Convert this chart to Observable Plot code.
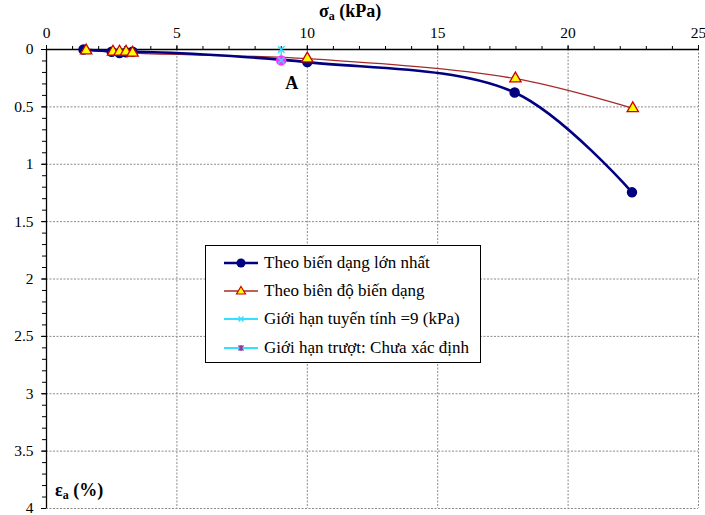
<!DOCTYPE html>
<html>
<head>
<meta charset="utf-8">
<script src="https://cdn.jsdelivr.net/npm/d3@7"></script>
<script src="https://cdn.jsdelivr.net/npm/@observablehq/plot@0.6"></script>
<style>
  html, body { margin: 0; padding: 0; background: #fff; }
  #wrap { position: relative; width: 705px; height: 515px; overflow: hidden; font-family: 'Liberation Serif', 'Tinos', 'Nimbus Roman', 'DejaVu Serif', serif; }
  #wrap svg text { font-family: 'Liberation Serif', 'Tinos', 'Nimbus Roman', 'DejaVu Serif', serif; }
  #title { position: absolute; left: 319px; top: 1px; font-weight: bold; font-size: 18px; }
  #ylab { position: absolute; left: 55px; top: 480px; font-weight: bold; font-size: 18px; }
  sub { font-size: 12px; vertical-align: -3px; }
  #legend { position: absolute; left: 205px; top: 245px; width: 274px; height: 116px; border: 1px solid #000; background: #fff; font-size: 17px; }
  .row { position: absolute; left: 16px; height: 20px; display: flex; align-items: center; white-space: nowrap; }
  .row svg { margin-right: 4px; }
</style>
</head>
<body>
<div id="wrap">
  <div id="chart"></div>
  <div id="title">σ<sub>a</sub> (kPa)</div>
  <div id="ylab">ε<sub>a</sub> (%)</div>
  <div id="legend"></div>
</div>
<script>
// Data
const maxStrainX = [1.42, 2.5, 2.8, 3.05, 3.3, 10.0, 17.95, 22.45];
const maxStrainY = [0.00, 0.02, 0.03, 0.025, 0.02, 0.11, 0.375, 1.245];
const amplitudeX = [1.52, 2.55, 2.8, 3.05, 3.3, 10.0, 17.98, 22.48];
const amplitudeY = [0.01, 0.02, 0.02, 0.02, 0.03, 0.08, 0.254, 0.513];
const linearLimitX = [9, 9];
const linearLimitY = [0, 0.095];
const slipLimitX = [9];
const slipLimitY = [0.095];
const annotations = [{x: 9.4, y: 0.29, text: "A"}];
const xMajorTicks = [0, 5, 10, 15, 20, 25];
const xMinorTicks = d3.range(0, 26, 1);
const yMajorTicks = [0, 0.5, 1, 1.5, 2, 2.5, 3, 3.5, 4];
const yMinorTicks = d3.range(0, 41).map(i => i / 10);
const legendLabels = [
  "Theo biến dạng lớn nhất",
  "Theo biên độ biến dạng",
  "Giới hạn tuyến tính =9 (kPa)",
  "Giới hạn trượt: Chưa xác định"
];

const s1 = maxStrainX.map((x, i) => ({x, y: maxStrainY[i]}));
const s2 = amplitudeX.map((x, i) => ({x, y: amplitudeY[i]}));
const s3 = linearLimitX.map((x, i) => ({x, y: linearLimitY[i]}));
const s4 = slipLimitX.map((x, i) => ({x, y: slipLimitY[i]}));

const BLUE = "#000080", RED = "#a52a2a", CYAN = "#33e0ff", MAG = "#ff33ff";
const font = "'Liberation Serif', 'Tinos', 'Nimbus Roman', 'DejaVu Serif', serif";

const chart = Plot.plot({
  width: 705,
  height: 515,
  marginLeft: 46,
  marginRight: 7,
  marginTop: 49,
  marginBottom: 7,
  style: {fontFamily: font, fontSize: "15px", color: "#000", background: "#fff", overflow: "visible"},
  x: {domain: [0, 25]},
  y: {domain: [0, 4], reverse: true},
  marks: [
    Plot.gridX({ticks: xMajorTicks.slice(1), stroke: "#8a8a8a", strokeOpacity: 1, strokeDasharray: "2,1.5"}),
    Plot.gridY({ticks: yMajorTicks.slice(1), stroke: "#8a8a8a", strokeOpacity: 1, strokeDasharray: "2,1.5"}),
    Plot.axisX({anchor: "top", ticks: xMinorTicks, tickSize: 4, text: null, label: null}),
    Plot.axisX({anchor: "top", ticks: xMajorTicks, tickSize: 5, tickPadding: 7, label: null, fontSize: 15.5}),
    Plot.axisY({anchor: "left", ticks: yMinorTicks, tickSize: 4, text: null, label: null}),
    Plot.axisY({anchor: "left", ticks: yMajorTicks, tickSize: 5, tickPadding: 8, label: null, fontSize: 15.5, tickFormat: d => String(d)}),
    Plot.ruleY([0], {stroke: "#000", strokeWidth: 1.3}),
    Plot.ruleX([0], {stroke: "#000", strokeWidth: 1.3}),
    Plot.line(s2, {x: "x", y: "y", stroke: RED, strokeWidth: 1.3, curve: "catmull-rom"}),
    Plot.line(s1, {x: "x", y: "y", stroke: BLUE, strokeWidth: 2.6, curve: "catmull-rom"}),
    Plot.dot(s1, {x: "x", y: "y", r: 4.5, fill: BLUE, stroke: BLUE}),
    Plot.dot(s2, {x: "x", y: "y", r: 4.2, symbol: "triangle", fill: "#ffff00", stroke: "#cc0000", strokeWidth: 1.3}),
    Plot.line(s3, {x: "x", y: "y", stroke: CYAN, strokeWidth: 1.5}),
    Plot.dot(s4, {x: "x", y: "y", r: 4.5, fill: MAG, stroke: MAG}),
    Plot.dot(s3, {x: "x", y: "y", r: 3, symbol: "times", stroke: CYAN, strokeWidth: 1.5}),
    Plot.text(annotations, {x: "x", y: "y", text: "text", fontWeight: "bold", fontSize: 18, fill: "#000"})
  ]
});
document.getElementById("chart").appendChild(chart);

// Legend
const legend = document.getElementById("legend");
const rowTops = [7, 35, 63, 92];
const swatches = [
  `<svg width="38" height="20"><line x1="2" x2="36" y1="10" y2="10" stroke="${BLUE}" stroke-width="2.5"/><circle cx="19" cy="10" r="4.5" fill="${BLUE}"/></svg>`,
  `<svg width="38" height="20"><line x1="2" x2="36" y1="10" y2="10" stroke="${RED}" stroke-width="1.3"/><path d="M19,5.5 L23.5,13 L14.5,13 Z" fill="#ffff00" stroke="#cc0000" stroke-width="1.2"/></svg>`,
  `<svg width="38" height="20"><line x1="2" x2="36" y1="10" y2="10" stroke="${CYAN}" stroke-width="2"/><path d="M16.5,7.5 L21.5,12.5 M21.5,7.5 L16.5,12.5" stroke="${CYAN}" stroke-width="1.5"/></svg>`,
  `<svg width="38" height="20"><line x1="2" x2="36" y1="10" y2="10" stroke="${CYAN}" stroke-width="2"/><path d="M16.5,7.5 L21.5,12.5 M21.5,7.5 L16.5,12.5 M19,7 L19,13" stroke="#993399" stroke-width="1.5"/></svg>`
];
legendLabels.forEach((t, i) => {
  const row = document.createElement("div");
  row.className = "row";
  row.style.top = rowTops[i] + "px";
  row.innerHTML = swatches[i] + `<span>${t}</span>`;
  legend.appendChild(row);
});
</script>
</body>
</html>
